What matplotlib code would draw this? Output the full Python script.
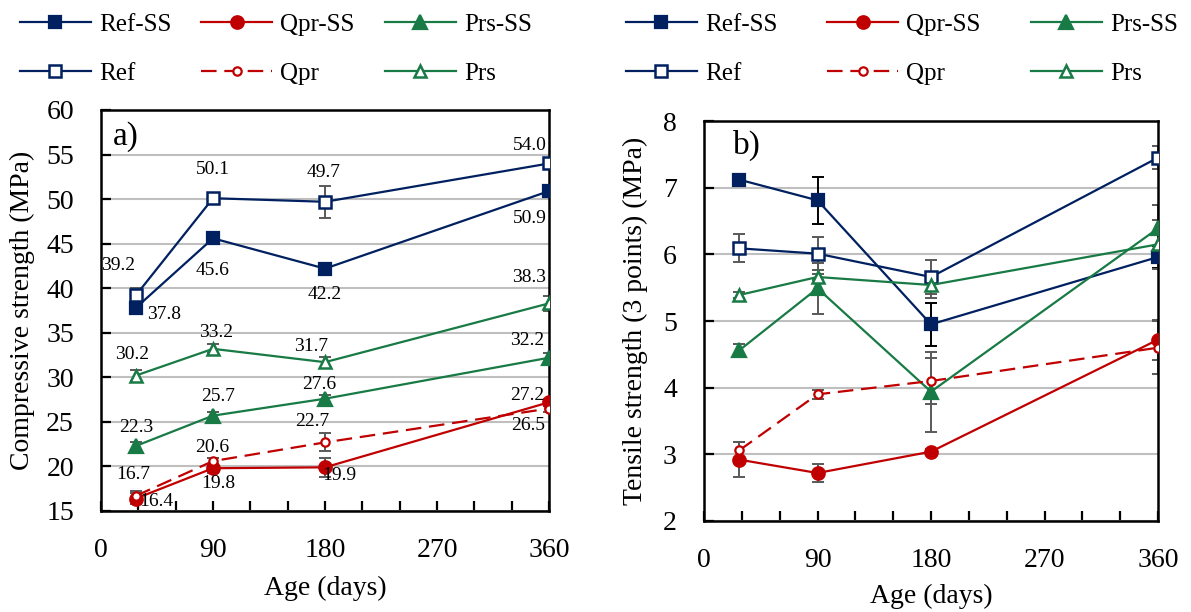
import matplotlib
matplotlib.use("Agg")
import matplotlib.pyplot as plt
from matplotlib.ticker import MultipleLocator, FixedLocator

plt.rcParams['font.family'] = ['Liberation Serif', 'DejaVu Serif']

age = [28, 90, 180, 360]
series_names = ["Ref-SS", "Qpr-SS", "Prs-SS", "Ref", "Qpr", "Prs"]

# Compressive strength (MPa)
comp_ref_ss = [37.8, 45.6, 42.2, 50.9]
comp_qpr_ss = [16.4, 19.8, 19.9, 27.2]
comp_prs_ss = [22.3, 25.7, 27.6, 32.2]
comp_ref = [39.2, 50.1, 49.7, 54.0]
comp_qpr = [16.7, 20.6, 22.7, 26.5]
comp_prs = [30.2, 33.2, 31.7, 38.3]
comp_err_ref_ss = [0.6, 0.4, 0.4, 0.6]
comp_err_qpr_ss = [0.6, 0.5, 1.1, 0.4]
comp_err_prs_ss = [0.4, 0.4, 0.4, 0.5]
comp_err_ref = [0.8, 0.4, 1.8, 0.4]
comp_err_qpr = [0.5, 0.4, 1.0, 0.4]
comp_err_prs = [0.6, 0.5, 0.6, 0.8]

# Tensile strength (MPa)
tens_ref_ss = [7.12, 6.81, 4.95, 5.96]
tens_qpr_ss = [2.92, 2.72, 3.04, 4.72]
tens_prs_ss = [4.56, 5.49, 3.94, 6.39]
tens_ref = [6.09, 6.01, 5.66, 7.45]
tens_qpr = [3.06, 3.90, 4.10, 4.60]
tens_prs = [5.39, 5.66, 5.54, 6.15]
tens_err_ref_ss = [0.05, 0.35, 0.32, 0.17]
tens_err_qpr_ss = [0.26, 0.13, 0.04, 0.30]
tens_err_prs_ss = [0.10, 0.38, 0.60, 0.35]
tens_err_ref = [0.21, 0.25, 0.25, 0.17]
tens_err_qpr = [0.13, 0.07, 0.35, 0.40]
tens_err_prs = [0.05, 0.05, 0.20, 0.37]

NAVY = '#002060'
RED = '#C00000'
GREEN = '#187A44'
GREY_ERR = '#595959'

styles = {
    "Ref-SS": dict(color=NAVY, marker='s', mfc=NAVY, ls='-', ms=8.5, mew=1.6),
    "Qpr-SS": dict(color=RED, marker='o', mfc=RED, ls='-', ms=9, mew=1.6),
    "Prs-SS": dict(color=GREEN, marker='^', mfc=GREEN, ls='-', ms=9.5, mew=1.6),
    "Ref": dict(color=NAVY, marker='s', mfc='white', ls='-', ms=8, mew=1.8),
    "Qpr": dict(color=RED, marker='o', mfc='white', ls=(0, (7, 3.5)), ms=6, mew=1.6),
    "Prs": dict(color=GREEN, marker='^', mfc='white', ls='-', ms=8.5, mew=1.8),
}

fig = plt.figure(figsize=(11.91, 6.12), dpi=100)
W, H = 1191, 612
axA = fig.add_axes([101 / W, (H - 511) / H, 448 / W, 401 / H])
axB = fig.add_axes([704 / W, (H - 521) / H, 454 / W, 400 / H])


def draw(ax, vals, errs, err_colors):
    handles = {}
    for name in series_names:
        st = styles[name]
        ax.errorbar(age, vals[name], yerr=errs[name], fmt='none',
                    ecolor=err_colors[name], elinewidth=1.4, capsize=4.5,
                    capthick=1.4, zorder=2)
        h, = ax.plot(age, vals[name], color=st['color'], ls=st['ls'], lw=1.6,
                     marker=st['marker'], ms=st['ms'], mfc=st['mfc'],
                     mec=st['color'], mew=st['mew'], zorder=3, label=name)
        handles[name] = h
    return handles


comp_vals = {"Ref-SS": comp_ref_ss, "Qpr-SS": comp_qpr_ss, "Prs-SS": comp_prs_ss,
             "Ref": comp_ref, "Qpr": comp_qpr, "Prs": comp_prs}
comp_errs = {"Ref-SS": comp_err_ref_ss, "Qpr-SS": comp_err_qpr_ss, "Prs-SS": comp_err_prs_ss,
             "Ref": comp_err_ref, "Qpr": comp_err_qpr, "Prs": comp_err_prs}
tens_vals = {"Ref-SS": tens_ref_ss, "Qpr-SS": tens_qpr_ss, "Prs-SS": tens_prs_ss,
             "Ref": tens_ref, "Qpr": tens_qpr, "Prs": tens_prs}
tens_errs = {"Ref-SS": tens_err_ref_ss, "Qpr-SS": tens_err_qpr_ss, "Prs-SS": tens_err_prs_ss,
             "Ref": tens_err_ref, "Qpr": tens_err_qpr, "Prs": tens_err_prs}

errcol_A = {k: GREY_ERR for k in series_names}
errcol_B = dict(errcol_A)
errcol_B["Ref-SS"] = 'black'

hA = draw(axA, comp_vals, comp_errs, errcol_A)
hB = draw(axB, tens_vals, tens_errs, errcol_B)

# data labels on panel a (offsets in pixels)
label_offsets = {
    "Ref": [(-18, 30), (0, 29), (-1, 29), (-19, 18)],
    "Ref-SS": [(28, -7), (0, -32), (0, -26), (-19, -27)],
    "Prs": [(-4, 21), (3, 16), (-14, 16), (-20, 26)],
    "Prs-SS": [(0, 18), (5, 19), (-6, 14), (-22, 17)],
    "Qpr": [(-3, 21), (-1, 14), (-13, 21), (-21, -17)],
    "Qpr-SS": [(20, -3), (5, -15), (14, -8), (-22, 7)],
}
for name, offs in label_offsets.items():
    for x, y, (dx, dy) in zip(age, comp_vals[name], offs):
        axA.annotate(f"{y:.1f}", (x, y), xytext=(dx, dy), textcoords='offset pixels',
                     ha='center', va='center', fontsize=14, zorder=5)


def style_axis(ax, ylo, yhi, ystep, ylabel, panel, ppos, xlabpad, ylabpad):
    ax.set_xlim(0, 360)
    ax.set_ylim(ylo, yhi)
    ax.xaxis.set_major_locator(FixedLocator([0, 90, 180, 270, 360]))
    ax.xaxis.set_minor_locator(MultipleLocator(30))
    ax.yaxis.set_major_locator(MultipleLocator(ystep))
    ax.tick_params(axis='both', which='both', direction='in', length=7, width=1.6,
                   labelsize=20, top=False, right=False)
    ax.tick_params(axis='both', which='major', pad=19.5)
    ax.grid(axis='y', color='#BFBFBF', lw=1.5, zorder=0)
    ax.set_axisbelow(True)
    for s in ax.spines.values():
        s.set_linewidth(1.8)
        s.set_color('black')
    ax.set_xlabel("Age (days)", fontsize=20, labelpad=xlabpad)
    ax.set_ylabel(ylabel, fontsize=20, labelpad=ylabpad)
    ax.text(ppos[0], ppos[1], panel, transform=ax.transAxes, fontsize=24,
            ha='left', va='center')


style_axis(axA, 15, 60, 5, "Compressive strength (MPa)", "a)", (0.027, 0.934), 9, 8)
style_axis(axB, 2, 8, 1, "Tensile strength (3 points) (MPa)", "b)", (0.064, 0.94), 8, 11)

order = ["Ref-SS", "Ref", "Qpr-SS", "Qpr", "Prs-SS", "Prs"]
for hd, x0, cs in [(hA, 20 / W, 1.2), (hB, 626 / W, 2.0)]:
    fig.legend([hd[n] for n in order], order, loc='upper left',
               bbox_to_anchor=(x0, 0.978), ncol=3, frameon=False, fontsize=18,
               handlelength=2.83, handletextpad=0.33, columnspacing=cs,
               labelspacing=1.06, borderaxespad=0.0, borderpad=0.0)

fig.savefig("out.png", dpi=100)
